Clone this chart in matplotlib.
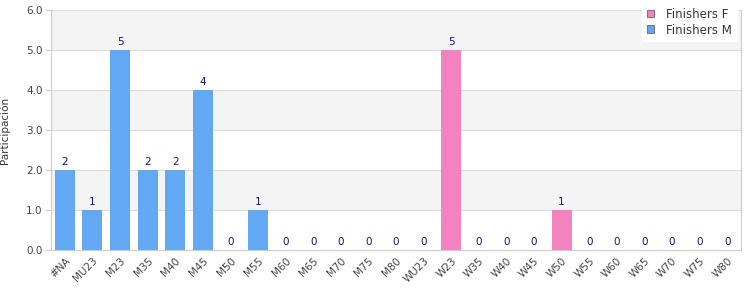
import matplotlib
matplotlib.use("Agg")
import matplotlib.pyplot as plt
from matplotlib.patches import Rectangle

categories = ["#NA", "MU23", "M23", "M35", "M40", "M45", "M50", "M55", "M60", "M65",
              "M70", "M75", "M80", "WU23", "W23", "W35", "W40", "W45", "W50", "W55",
              "W60", "W65", "W70", "W75", "W80"]
finishers_m = [2, 1, 5, 2, 2, 4, 0, 1, 0, 0, 0, 0, 0, 0, 0, 0, 0, 0, 0, 0, 0, 0, 0, 0, 0]
finishers_f = [0, 0, 0, 0, 0, 0, 0, 0, 0, 0, 0, 0, 0, 0, 5, 0, 0, 0, 1, 0, 0, 0, 0, 0, 0]
yticks = [0.0, 1.0, 2.0, 3.0, 4.0, 5.0, 6.0]

col_m = "#62a8f2"
col_f = "#f383be"

fig = plt.figure(figsize=(7.5, 3), dpi=100)
ax = fig.add_axes([0.068, 0.1667, 0.92, 0.80])
x = list(range(len(categories)))

for lo in [1, 3, 5]:
    ax.axhspan(lo, lo + 1, color="#f4f4f4", zorder=0, lw=0)
for t in yticks:
    ax.axhline(t, color="#dddddd", lw=0.8, zorder=0.5)

ax.bar(x, finishers_m, width=0.72, color=col_m, zorder=2)
ax.bar(x, finishers_f, width=0.72, color=col_f, zorder=2)

for i in x:
    v = finishers_m[i] + finishers_f[i]
    ax.text(i, v + 0.08, f"{v}", ha="center", va="bottom", fontsize=7.5, color="#10108a", zorder=3)

ax.set_xlim(-0.5, len(categories) - 0.5)
ax.set_ylim(0, 6)
ax.set_yticks(yticks)
ax.set_yticklabels([f"{t:.1f}" for t in yticks], fontsize=7.5, color="#444444")
ax.set_xticks(x)
ax.set_xticklabels(categories, rotation=45, ha="right", rotation_mode="anchor", fontsize=7.5, color="#444444")
ax.tick_params(axis="y", length=4, color="#cccccc", pad=2)
ax.tick_params(axis="x", length=0, pad=4)
for s in ["left", "bottom", "right"]:
    ax.spines[s].set_color("#cccccc")
    ax.spines[s].set_linewidth(0.8)
ax.spines["top"].set_visible(False)
ax.set_ylabel("Participación", fontsize=7.5, color="#333333", labelpad=12)

handles = [Rectangle((0, 0), 1, 1, facecolor=col_f, edgecolor="#777777", lw=0.8),
           Rectangle((0, 0), 1, 1, facecolor=col_m, edgecolor="#777777", lw=0.8)]
leg = fig.legend(handles, ["Finishers F", "Finishers M"], loc="upper right",
                 bbox_to_anchor=(0.99, 1.01), fontsize=8.5, frameon=True,
                 handlelength=0.65, handleheight=0.65, handletextpad=1.0,
                 borderpad=0.4, labelspacing=0.25, fancybox=False)
leg.get_frame().set_edgecolor("white")
leg.get_frame().set_facecolor("white")
leg.get_frame().set_alpha(1)
for t in leg.get_texts():
    t.set_color("#333333")

fig.savefig("out.png", dpi=100)
